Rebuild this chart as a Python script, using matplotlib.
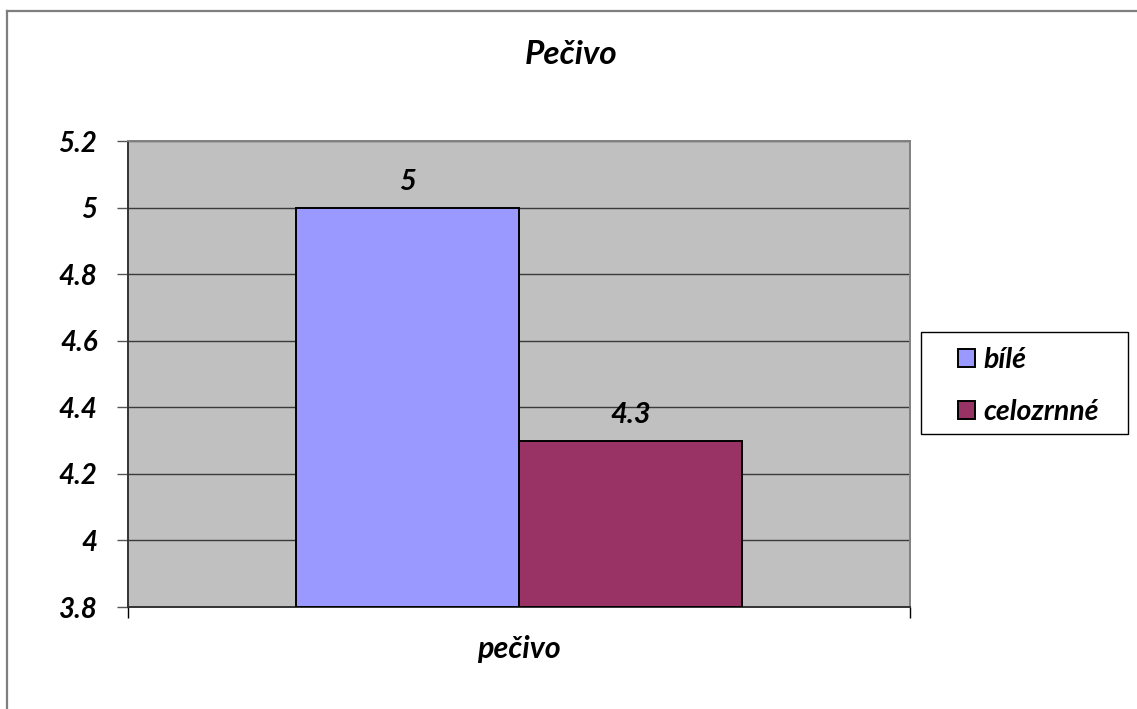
import matplotlib
matplotlib.use("Agg")
import matplotlib.pyplot as plt
from matplotlib.patches import Rectangle
from matplotlib.lines import Line2D

# data
category = "pečivo"
series_names = ["bílé", "celozrnné"]
values = [5.0, 4.3]
value_labels = ["5", "4.3"]
bar_colors = ["#9999FF", "#993366"]
yticks = [3.8, 4.0, 4.2, 4.4, 4.6, 4.8, 5.0, 5.2]
ytick_labels = ["3.8", "4", "4.2", "4.4", "4.6", "4.8", "5", "5.2"]

FONT = dict(family="Lato", weight="bold", style="italic")
W, H = 1137, 709

fig = plt.figure(figsize=(W / 100, H / 100), dpi=100, facecolor="white")

# outer chart frame (only top and left edges fall inside the image)
fig.add_artist(Line2D([7 / W, 7 / W], [0, 1 - 11 / H], transform=fig.transFigure,
                      color="#7f7f7f", lw=1.6))
fig.add_artist(Line2D([7 / W, 1], [1 - 11 / H, 1 - 11 / H], transform=fig.transFigure,
                      color="#7f7f7f", lw=1.6))

ax = fig.add_axes([128 / W, (H - 607) / H, (910 - 128) / W, (607 - 141) / H])
ax.set_facecolor("#C0C0C0")

bar_w = 0.2855
offsets = [-bar_w / 2, bar_w / 2]
for name, v, c, off, lab in zip(series_names, values, bar_colors, offsets, value_labels):
    b = ax.bar(off, v - 3.8, bottom=3.8, width=bar_w, color=c, edgecolor="black",
               linewidth=1.4, label=name, zorder=3)
    ax.bar_label(b, labels=[lab], padding=9, fontsize=21, zorder=4, **FONT)

ax.set_xlim(-0.5, 0.5)
ax.set_ylim(3.8, 5.2)
ax.set_yticks(yticks)
ax.set_yticklabels(ytick_labels, **FONT, fontsize=20)
ax.grid(axis="y", color="#3a3a3a", linewidth=1.0, zorder=1)
ax.set_axisbelow(True)

# boundary ticks on x, category name as a minor tick label
ax.set_xticks([-0.5, 0.5])
ax.set_xticklabels(["", ""])
ax.set_xticks([0], minor=True)
ax.set_xticklabels([category], minor=True, **FONT, fontsize=22)
ax.tick_params(axis="x", which="major", direction="out", length=8, width=1, color="black")
ax.tick_params(axis="x", which="minor", length=0, pad=20)
ax.tick_params(axis="y", direction="out", length=8, width=1, color="#555555", pad=14)

ax.spines["left"].set_color("#333333")
ax.spines["bottom"].set_color("#333333")
ax.spines["top"].set_color("#808080")
ax.spines["right"].set_color("#808080")
for s in ax.spines.values():
    s.set_linewidth(1.4)

fig.text(571 / W, 1 - 55 / H, "Pečivo", ha="center", va="center", fontsize=24, **FONT)

# legend box
fig.add_artist(Rectangle((921 / W, 1 - 434 / H), (1128 - 921) / W, (434 - 332) / H,
                         transform=fig.transFigure, facecolor="white",
                         edgecolor="black", lw=1.0))
handles = [Rectangle((0, 0), 1, 1, facecolor=c, edgecolor="black", lw=1.4) for c in bar_colors]
fig.legend(handles, series_names, loc="upper left",
           bbox_to_anchor=(935 / W, 1 - 324 / H), frameon=False,
           prop=dict(family="Lato", weight="bold", style="italic", size=20.5),
           handlelength=0.6, handleheight=0.6, handletextpad=0.3,
           labelspacing=0.92, borderpad=0.3)

fig.savefig("out.png", dpi=100, facecolor="white")
